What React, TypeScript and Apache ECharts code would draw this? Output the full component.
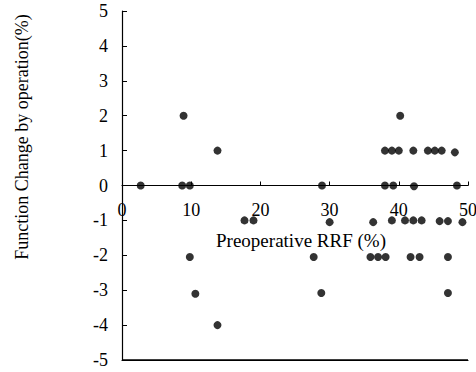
import React, { useEffect, useRef } from "react";
import * as echarts from "echarts";

const rrf = [
  2.7, 8.7, 9.8, 8.9, 13.8,
  17.7, 19.0, 9.8, 10.6, 13.8,
  28.9, 38.0, 39.2, 42.2, 48.4,
  40.2, 38.0, 39.0, 40.0, 42.1, 44.2, 45.2, 46.2, 48.1,
  30.0, 36.3, 39.0, 40.9, 42.1, 43.3, 45.9, 47.1, 49.2,
  27.7, 35.9, 37.0, 38.1, 41.7, 43.0, 47.1,
  28.8, 47.1,
];
const change = [
  0, 0, 0, 2, 1,
  -1, -1, -2.05, -3.1, -4,
  0, 0, 0, -0.02, 0,
  2, 1, 1, 1, 1, 1, 1, 1, 0.95,
  -1.05, -1.05, -1, -1, -1, -1, -1.02, -1.02, -1.05,
  -2.05, -2.05, -2.05, -2.05, -2.05, -2.05, -2.05,
  -3.08, -3.08,
];
const xTicks = [0, 10, 20, 30, 40, 50];
const yTicks = [-5, -4, -3, -2, -1, 0, 1, 2, 3, 4, 5];

const FONT = '"Liberation Serif", "Times New Roman", serif';
const GRID_TOP = 11;
const GRID_BOTTOM = 12;
const H = 372;
const zeroOffset = -(H - GRID_TOP - GRID_BOTTOM) * (0 - yTicks[0]) / (yTicks[yTicks.length - 1] - yTicks[0]);

export default function App() {
  const ref = useRef<HTMLDivElement>(null);
  useEffect(() => {
    if (!ref.current) return;
    const chart = echarts.init(ref.current, null, { renderer: "svg" });
    chart.setOption({
      animation: false,
      grid: { left: 122, right: 8, top: GRID_TOP, bottom: GRID_BOTTOM, containLabel: false, outerBoundsMode: "none" },
      xAxis: [
        {
          type: "value",
          position: "bottom",
          min: xTicks[0],
          max: xTicks[xTicks.length - 1],
          interval: 10,
          axisLine: { show: true, onZero: false, lineStyle: { color: "#000", width: 1.2 } },
          axisTick: { show: false },
          axisLabel: { show: false },
          splitLine: { show: false },
        },
        {
          type: "value",
          position: "bottom",
          offset: zeroOffset,
          min: xTicks[0],
          max: xTicks[xTicks.length - 1],
          interval: 10,
          axisLine: { onZero: false, lineStyle: { color: "#000", width: 1.2 } },
          axisTick: { show: true, inside: true, length: 4, lineStyle: { color: "#000" } },
          axisLabel: { color: "#000", fontFamily: FONT, fontSize: 18, margin: 15 },
          splitLine: { show: false },
          name: "Preoperative RRF (%)",
          nameLocation: "middle",
          nameGap: 45,
          nameTextStyle: { color: "#000", fontFamily: FONT, fontSize: 19, padding: [0, 0, 0, 12] },
        },
      ],
      yAxis: {
        type: "value",
        min: yTicks[0],
        max: yTicks[yTicks.length - 1],
        interval: 1,
        axisLine: { onZero: false, lineStyle: { color: "#000", width: 1.2 } },
        axisTick: { show: true, inside: true, length: 5, lineStyle: { color: "#000" } },
        axisLabel: { color: "#000", fontFamily: FONT, fontSize: 18, margin: 14 },
        splitLine: { show: false },
      },
      graphic: [
        {
          id: "ytitle",
          type: "text",
          x: 22,
          y: 137,
          rotation: Math.PI / 2,
          style: {
            text: "Function Change by operation(%)",
            fill: "#000",
            font: `18px ${FONT}`,
            textAlign: "center",
            textVerticalAlign: "middle",
          },
        },
      ],
      series: [
        {
          type: "line",
          xAxisIndex: 0,
          silent: true,
          clip: false,
          symbol: "none",
          lineStyle: { color: "#000", width: 1.2 },
          data: [
            [xTicks[0], yTicks[0]],
            [xTicks[xTicks.length - 1], yTicks[0]],
          ],
          z: 1,
        },
        {
          type: "scatter",
          xAxisIndex: 1,
          symbol: "circle",
          symbolSize: 8,
          itemStyle: { color: "#000" },
          data: rrf.map((x, i) => [x, change[i]]),
          z: 3,
        },
      ],
    });
    // bottom frame line at y = min, positioned through the chart's own scales
    const p0 = chart.convertToPixel({ xAxisIndex: 0, yAxisIndex: 0 }, [xTicks[0], yTicks[0]]) as number[];
    const p1 = chart.convertToPixel({ xAxisIndex: 0, yAxisIndex: 0 }, [xTicks[xTicks.length - 1], yTicks[0]]) as number[];
    if (p0 && p1) {
      chart.setOption({
        graphic: [
          {
            id: "bottomline",
            type: "line",
            shape: { x1: p0[0], y1: p0[1], x2: p1[0], y2: p1[1] },
            style: { stroke: "#000", lineWidth: 1.2 },
            z: 5,
          },
        ],
      });
    }
    return () => chart.dispose();
  }, []);
  return <div ref={ref} style={{ width: 476, height: 372, position: "absolute", left: 0, top: 0 }} />;
}
